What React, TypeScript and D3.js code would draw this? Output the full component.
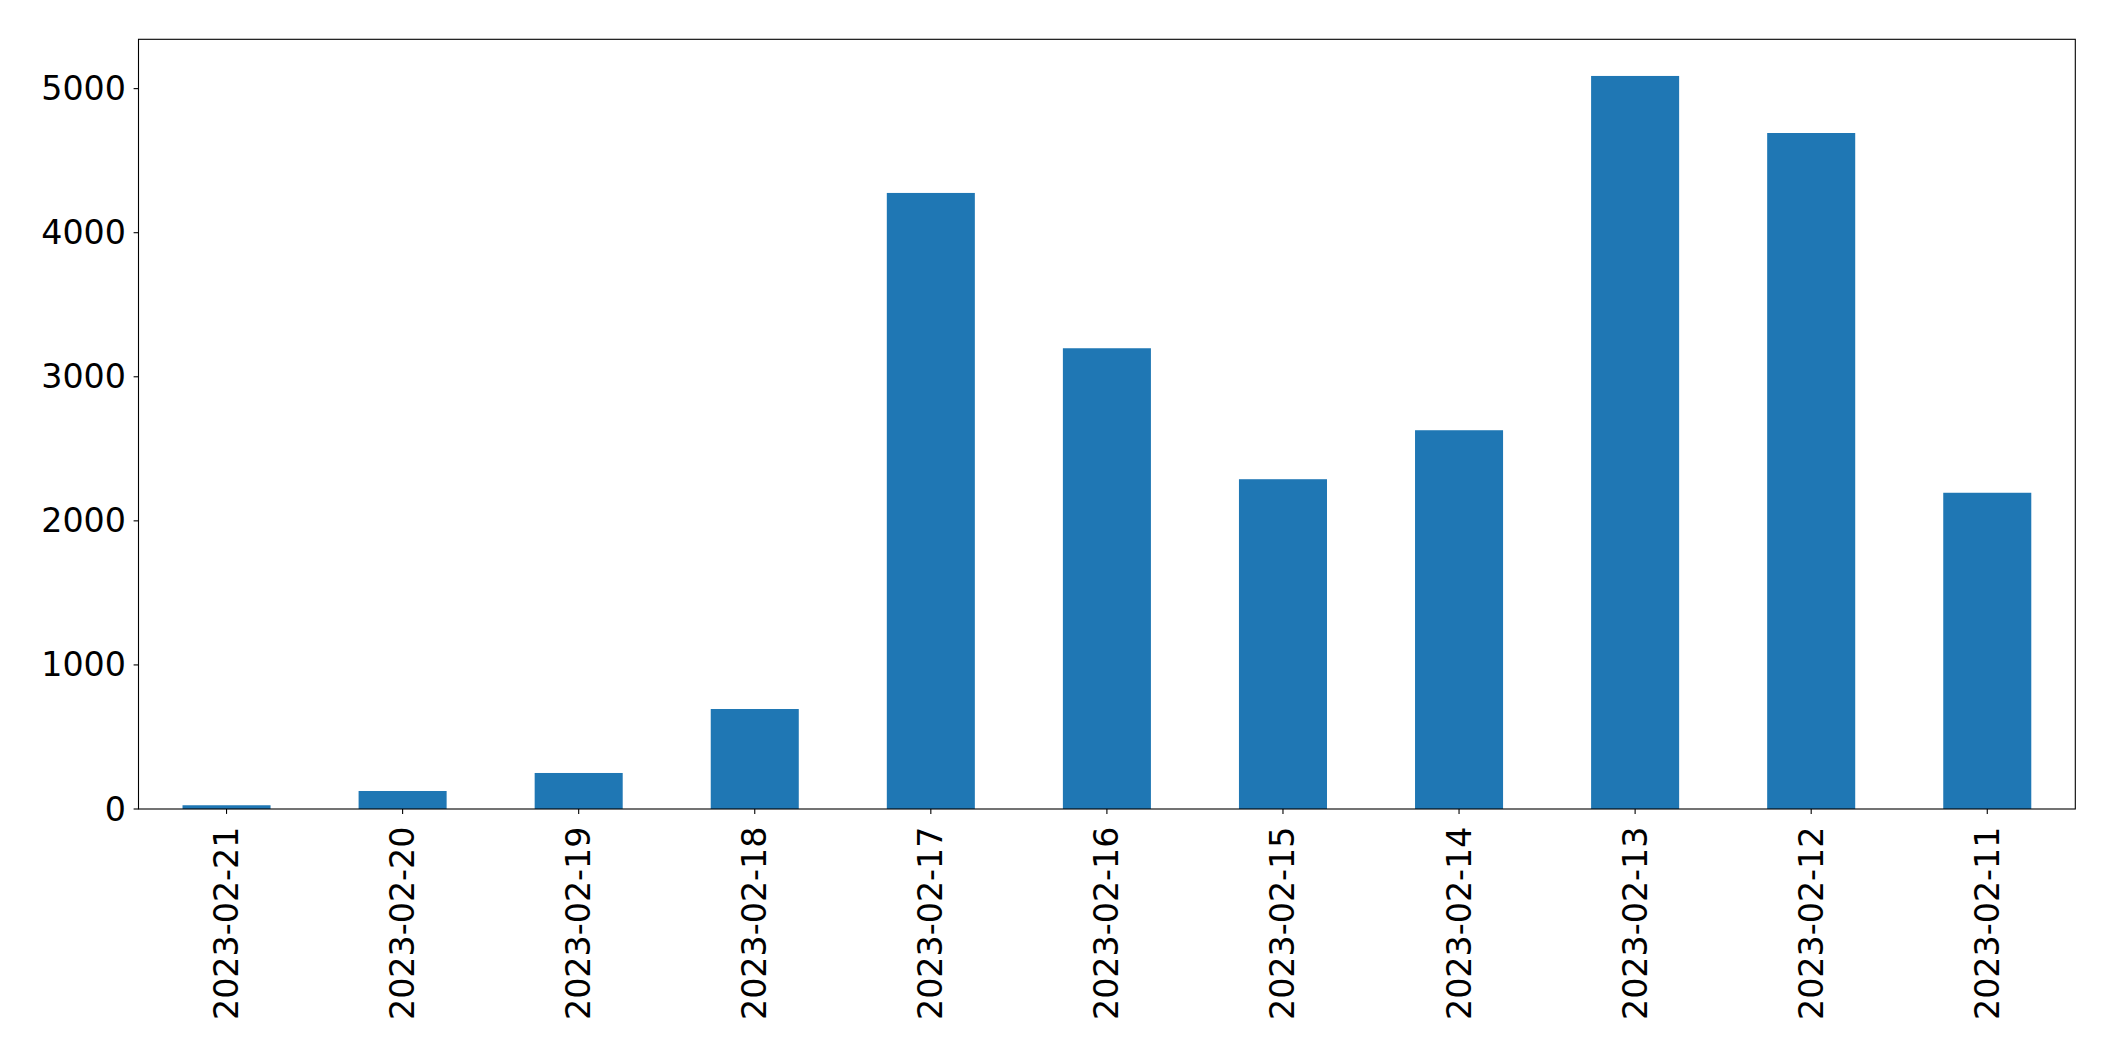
import React from "react";
import * as d3 from "d3";

const categories = [
  "2023-02-21",
  "2023-02-20",
  "2023-02-19",
  "2023-02-18",
  "2023-02-17",
  "2023-02-16",
  "2023-02-15",
  "2023-02-14",
  "2023-02-13",
  "2023-02-12",
  "2023-02-11",
];
const values = [26, 125, 250, 694, 4276, 3198, 2289, 2629, 5088, 4692, 2195];
const yTicks = [0, 1000, 2000, 3000, 4000, 5000];

const W = 2115;
const H = 1061;
const left = 138.5;
const right = 2075.3;
const top = 39.3;
const bottom = 809;
const FONT = "DejaVu Sans, sans-serif";
const FS = 33.3;

export default function App() {
  const x = d3
    .scaleLinear()
    .domain([-0.5, categories.length - 0.5])
    .range([left, right]);
  const yMax = (d3.max(values) as number) * 1.05;
  const y = d3.scaleLinear().domain([0, yMax]).range([bottom, top]);
  const barW = x(0.25) - x(-0.25);

  return (
    <svg
      width={W}
      height={H}
      style={{ position: "absolute", left: 0, top: 0, background: "#fff" }}
      fontFamily={FONT}
    >
      <rect x={0} y={0} width={W} height={H} fill="#fff" />
      {values.map((v, i) => (
        <rect
          key={i}
          x={x(i) - barW / 2}
          y={y(v)}
          width={barW}
          height={bottom - y(v)}
          fill="#1f77b4"
        />
      ))}
      {yTicks.map((t) => (
        <g key={t}>
          <line x1={left - 4.9} x2={left} y1={y(t)} y2={y(t)} stroke="#000" strokeWidth={1.1} />
          <text
            x={left - 12.5}
            y={y(t)}
            textAnchor="end"
            dominantBaseline="central"
            fontSize={FS}
            fill="#000"
          >
            {t}
          </text>
        </g>
      ))}
      {categories.map((c, i) => (
        <g key={c}>
          <line x1={x(i)} x2={x(i)} y1={bottom} y2={bottom + 4.9} stroke="#000" strokeWidth={1.1} />
          <text
            transform={`translate(${x(i)},${bottom + 17.5}) rotate(-90)`}
            textAnchor="end"
            dominantBaseline="central"
            fontSize={FS}
            fill="#000"
          >
            {c}
          </text>
        </g>
      ))}
      <rect
        x={left}
        y={top}
        width={right - left}
        height={bottom - top}
        fill="none"
        stroke="#000"
        strokeWidth={1.1}
      />
    </svg>
  );
}
